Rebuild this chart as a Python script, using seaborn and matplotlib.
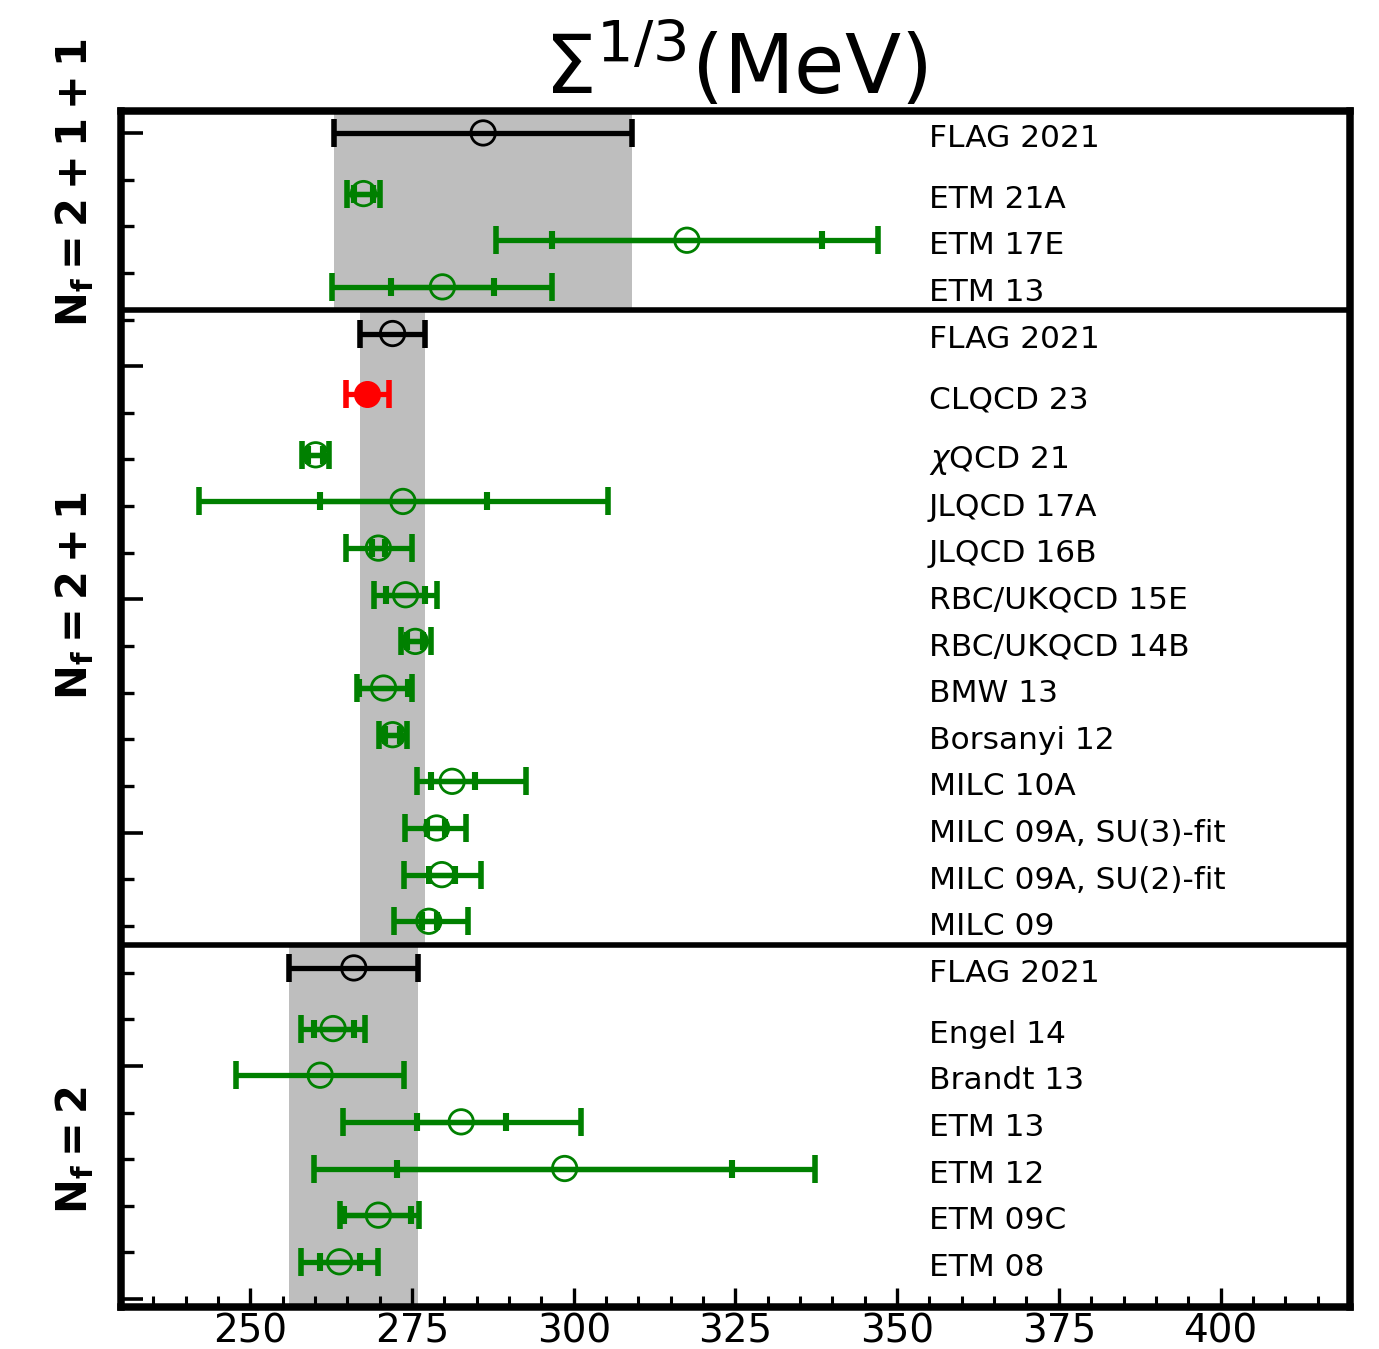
import numpy as np
import pandas as pd
import matplotlib
matplotlib.use("Agg")
import matplotlib.pyplot as plt
import seaborn as sns

# ---------------------------------------------------------------------------
# Chiral condensate Sigma^(1/3) in MeV, grouped by number of flavours.
# Each group is listed bottom-to-top; errors are (lower, upper).
# ---------------------------------------------------------------------------
nf2_labels = ["ETM 08", "ETM 09C", "ETM 12", "ETM 13", "Brandt 13", "Engel 14"]
nf2_values = [263.8, 269.8, 298.6, 282.6, 260.8, 262.8]
nf2_stat_lo = [3.0, 5.3, 25.9, 6.9, 0.0, 3.0]
nf2_stat_hi = [3.1, 5.0, 25.9, 6.9, 0.0, 3.2]
nf2_tot_lo = [5.9, 5.9, 38.7, 18.3, 13.0, 5.0]
nf2_tot_hi = [5.9, 6.3, 38.7, 18.5, 13.0, 5.0]
nf2_flag = (266.0, 10.0)

nf21_labels = ["MILC 09", "MILC 09A, SU(2)-fit", "MILC 09A, SU(3)-fit", "MILC 10A",
               "Borsanyi 12", "BMW 13", "RBC/UKQCD 14B", "RBC/UKQCD 15E",
               "JLQCD 16B", "JLQCD 17A", r"$\chi$QCD 21"]
nf21_values = [277.6, 279.6, 278.8, 281.2, 272.0, 270.6, 275.5, 274.0,
               269.8, 273.6, 260.1]
nf21_stat_lo = [1.0, 2.0, 1.5, 3.3, 1.2, 3.8, 1.3, 3.0, 1.0, 12.8, 1.2]
nf21_stat_hi = [1.3, 2.0, 1.3, 3.6, 1.2, 3.8, 1.2, 3.0, 1.0, 13.0, 1.2]
nf21_tot_lo = [5.4, 5.9, 4.9, 5.5, 2.1, 4.1, 2.2, 4.9, 5.0, 31.5, 2.1]
nf21_tot_hi = [6.0, 6.1, 4.6, 11.5, 2.2, 4.4, 2.4, 4.9, 5.2, 31.7, 2.1]
clqcd_label = "CLQCD 23"
clqcd_value = 268.1
clqcd_err = 3.3
nf21_flag = (272.0, 5.0)

nf211_labels = ["ETM 13", "ETM 17E", "ETM 21A"]
nf211_values = [279.7, 317.5, 267.5]
nf211_stat_lo = [8.0, 20.9, 1.5]
nf211_stat_hi = [8.0, 20.9, 1.5]
nf211_tot_lo = [17.0, 29.5, 2.5]
nf211_tot_hi = [17.0, 29.5, 2.5]
nf211_flag = (286.0, 23.0)

xticks_major = [250, 275, 300, 325, 350, 375, 400]

GREEN = "#008000"
BAND = "#bebebe"

# ---------------------------------------------------------------------------
# Row layout: regular entries one unit apart, special rows 1.3 apart
# ---------------------------------------------------------------------------
rows = []
y = 0.8
for i, lab in enumerate(nf2_labels):
    rows.append(dict(label=lab, value=nf2_values[i], slo=nf2_stat_lo[i], shi=nf2_stat_hi[i],
                     tlo=nf2_tot_lo[i], thi=nf2_tot_hi[i], y=y, kind="result"))
    y += 1
y = y - 1 + 1.3
rows.append(dict(label="FLAG 2021", value=nf2_flag[0], slo=0, shi=0,
                 tlo=nf2_flag[1], thi=nf2_flag[1], y=y, kind="flag"))
sep1 = y + 0.5
band2 = (-0.5, sep1)

y = sep1 + 0.5
for i, lab in enumerate(nf21_labels):
    rows.append(dict(label=lab, value=nf21_values[i], slo=nf21_stat_lo[i], shi=nf21_stat_hi[i],
                     tlo=nf21_tot_lo[i], thi=nf21_tot_hi[i], y=y, kind="result"))
    y += 1
y = y - 1 + 1.3
rows.append(dict(label=clqcd_label, value=clqcd_value, slo=0, shi=0,
                 tlo=clqcd_err, thi=clqcd_err, y=y, kind="new"))
y += 1.3
rows.append(dict(label="FLAG 2021", value=nf21_flag[0], slo=0, shi=0,
                 tlo=nf21_flag[1], thi=nf21_flag[1], y=y, kind="flag"))
sep2 = y + 0.5
band21 = (sep1, sep2)

y = sep2 + 0.5
for i, lab in enumerate(nf211_labels):
    rows.append(dict(label=lab, value=nf211_values[i], slo=nf211_stat_lo[i], shi=nf211_stat_hi[i],
                     tlo=nf211_tot_lo[i], thi=nf211_tot_hi[i], y=y, kind="result"))
    y += 1
y = y - 1 + 1.3
rows.append(dict(label="FLAG 2021", value=nf211_flag[0], slo=0, shi=0,
                 tlo=nf211_flag[1], thi=nf211_flag[1], y=y, kind="flag"))
band211 = (sep2, 26.0)

df = pd.DataFrame(rows)
colors = {"result": GREEN, "flag": "black", "new": "red"}

# ---------------------------------------------------------------------------
# Figure
# ---------------------------------------------------------------------------
sns.set_theme(style="white")
plt.rcParams["font.family"] = ["DejaVu Sans"]
plt.rcParams["mathtext.fontset"] = "dejavusans"
plt.rcParams["text.color"] = "black"
plt.rcParams["xtick.color"] = "black"
plt.rcParams["ytick.color"] = "black"
plt.rcParams["xtick.labelcolor"] = "black"
plt.rcParams["axes.titlecolor"] = "black"

fig = plt.figure(figsize=(13.79, 13.49), dpi=100)
ax = fig.add_axes([0.0877, 0.0311, 0.8912, 0.8866])

ylo, yhi = -0.17, 25.47
ax.set_xlim(230, 420)
ax.set_ylim(ylo, yhi)

# FLAG average bands, one per flavour panel
for (b0, b1), (v, e) in [(band2, nf2_flag), (band21, nf21_flag), (band211, nf211_flag)]:
    ax.fill_between([v - e, v + e], max(b0, ylo), min(b1, yhi), color=BAND, lw=0, zorder=0)

# panel separators
for s in (sep1, sep2):
    ax.axhline(s, color="black", lw=4, zorder=3)

# error bars: full error with long caps, statistical error with short ticks
for _, r in df.iterrows():
    c = colors[r.kind]
    ax.errorbar(r.value, r.y, xerr=[[r.tlo], [r.thi]], fmt="none", ecolor=c,
                elinewidth=3.8, capsize=10, capthick=4.0, zorder=4)
    if r.slo > 0 or r.shi > 0:
        ax.errorbar(r.value, r.y, xerr=[[r.slo], [r.shi]], fmt="none", ecolor=c,
                    elinewidth=3.8, capsize=6.5, capthick=4.4, zorder=4)

# central values
open_pts = df[df.kind != "new"]
sns.scatterplot(data=open_pts, x="value", y="y", hue="kind",
                palette={"result": GREEN, "flag": "black"}, marker="o",
                s=310, facecolors="none", linewidth=2.0, legend=False, ax=ax, zorder=5)
for coll in ax.collections[-1:]:
    coll.set_facecolor("none")
    ec = [GREEN if k == "result" else "black" for k in open_pts.kind]
    coll.set_edgecolor(ec)
sns.scatterplot(data=df[df.kind == "new"], x="value", y="y", color="red", marker="o",
                s=340, edgecolor="red", linewidth=1.0, legend=False, ax=ax, zorder=6)

# collaboration labels
for _, r in df.iterrows():
    ax.text(354.9, r.y - 0.12, r.label, fontsize=22.5, ha="left", va="center",
            color="black", zorder=6)

# flavour labels on the left
for txt, yc in [(r"$\mathbf{N_f = 2 + 1 + 1}$", 23.94),
                (r"$\mathbf{N_f = 2 + 1}$", 15.07),
                (r"$\mathbf{N_f = 2}$", 3.19)]:
    ax.text(-0.038, yc, txt, rotation=90, ha="center", va="center", fontsize=30,
            fontweight="bold", color="black", transform=ax.get_yaxis_transform())

# axes styling
ax.set_xlabel("")
ax.set_ylabel("")
ax.set_xticks(xticks_major)
ax.set_xticklabels([str(t) for t in xticks_major])
ax.set_xticks(np.arange(230, 421, 5), minor=True)
ax.set_yticks(np.arange(0, 26, 5))
ax.set_yticks(np.arange(0, 26, 1), minor=True)
ax.set_yticklabels([])
ax.tick_params(axis="x", which="major", direction="in", length=14, width=2.4,
               labelsize=28, pad=4, bottom=True, top=False, colors="black")
ax.tick_params(axis="x", which="minor", direction="in", length=8, width=2.2,
               bottom=True, top=False, colors="black")
ax.tick_params(axis="y", which="major", direction="in", length=16, width=2.6,
               left=True, right=False, colors="black")
ax.tick_params(axis="y", which="minor", direction="in", length=9, width=2.4,
               left=True, right=False, colors="black")
for sp in ax.spines.values():
    sp.set_linewidth(5.4)
    sp.set_color("black")
    sp.set_visible(True)

ax.set_title(r"$\Sigma^{1/3}$(MeV)", fontsize=59, pad=8, color="black")

fig.savefig("out.png", dpi=100, facecolor="white")
